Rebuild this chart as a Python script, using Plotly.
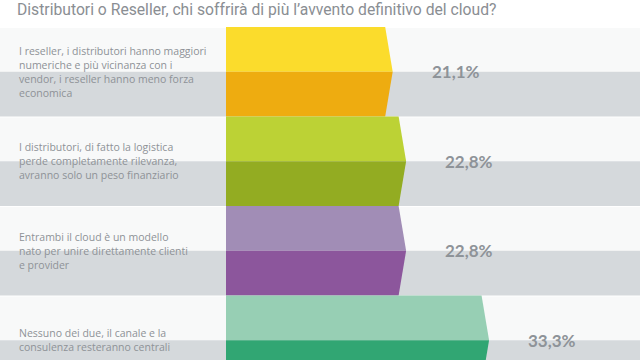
import plotly.graph_objects as go

title_text = "Distributori o Reseller, chi soffrirà di più l’avvento definitivo del cloud?"
categories = [
    "I reseller, i distributori hanno maggiori<br>numeriche e più vicinanza con i<br>vendor, i reseller hanno meno forza<br>economica",
    "I distributori, di fatto la logistica<br>perde completamente rilevanza,<br>avranno solo un peso finanziario",
    "Entrambi il cloud è un modello<br>nato per unire direttamente clienti<br>e provider",
    "Nessuno dei due, il canale e la<br>consulenza resteranno centrali",
]
values = [21.1, 22.8, 22.8, 33.3]
value_labels = ["21,1%", "22,8%", "22,8%", "33,3%"]
top_colors = ["#fbdc2c", "#bcd235", "#a18db6", "#97cfb4"]
bottom_colors = ["#eeac10", "#93ac22", "#8c569c", "#31a673"]

W, H = 640, 360
px_per_unit = 7.9
x0_px = 226
row_h = 89.5
row0_px = 27
tip = 7.5 / px_per_unit
line_gap = 14 / row_h

fig = go.Figure()
shapes = []
for i in range(len(values)):
    shapes.append(dict(type="rect", xref="paper", yref="y", x0=0, x1=1, y0=i + 0.012, y1=i + 0.5,
                       fillcolor="#f8f9f9", line=dict(width=0), layer="below"))
    shapes.append(dict(type="rect", xref="paper", yref="y", x0=0, x1=1, y0=i + 0.5, y1=i + 1,
                       fillcolor="#d5d9dc", line=dict(width=0), layer="below"))

for i, v in enumerate(values):
    fig.add_trace(go.Scatter(x=[0, v - tip, v, 0, 0], y=[i, i, i + 0.5, i + 0.5, i],
                             fill="toself", fillcolor=top_colors[i], mode="lines",
                             line=dict(width=0, color=top_colors[i]), hoverinfo="skip", showlegend=False))
    fig.add_trace(go.Scatter(x=[0, v, v - tip, 0, 0], y=[i + 0.5, i + 0.5, i + 1, i + 1, i + 0.5],
                             fill="toself", fillcolor=bottom_colors[i], mode="lines",
                             line=dict(width=0, color=bottom_colors[i]), hoverinfo="skip", showlegend=False))

annotations = [dict(text=title_text, xref="paper", yref="paper", x=15 / W, y=1 - 9 / H,
                    xanchor="left", yanchor="middle", showarrow=False,
                    font=dict(family="Roboto", size=15.7, color="#8a8e93"))]
for i, (cat, v, lab) in enumerate(zip(categories, values, value_labels)):
    lines = cat.split("<br>")
    n = len(lines)
    for j, ln in enumerate(lines):
        annotations.append(dict(text=ln, xref="paper", yref="y", x=17 / W,
                                y=i + 0.5 + (j - (n - 1) / 2) * line_gap,
                                xanchor="left", yanchor="middle", align="left", showarrow=False,
                                font=dict(family="Open Sans", size=10.5, color="#8e9297")))
    annotations.append(dict(text="<b>" + lab + "</b>", xref="x", yref="y", x=v + 8, y=i + 0.5,
                            xanchor="center", yanchor="middle", showarrow=False,
                            font=dict(family="Lato", size=17, color="#8e9398")))

fig.update_layout(
    width=W, height=H, margin=dict(l=0, r=0, t=0, b=0),
    paper_bgcolor="white", plot_bgcolor="white",
    xaxis=dict(range=[-x0_px / px_per_unit, (W - x0_px) / px_per_unit], visible=False, fixedrange=True),
    yaxis=dict(range=[(H - row0_px) / row_h, -row0_px / row_h], visible=False, fixedrange=True),
    shapes=shapes, annotations=annotations,
)
fig.write_html("out.html", config={"displayModeBar": False},
               post_script="document.body.style.margin='0';")
